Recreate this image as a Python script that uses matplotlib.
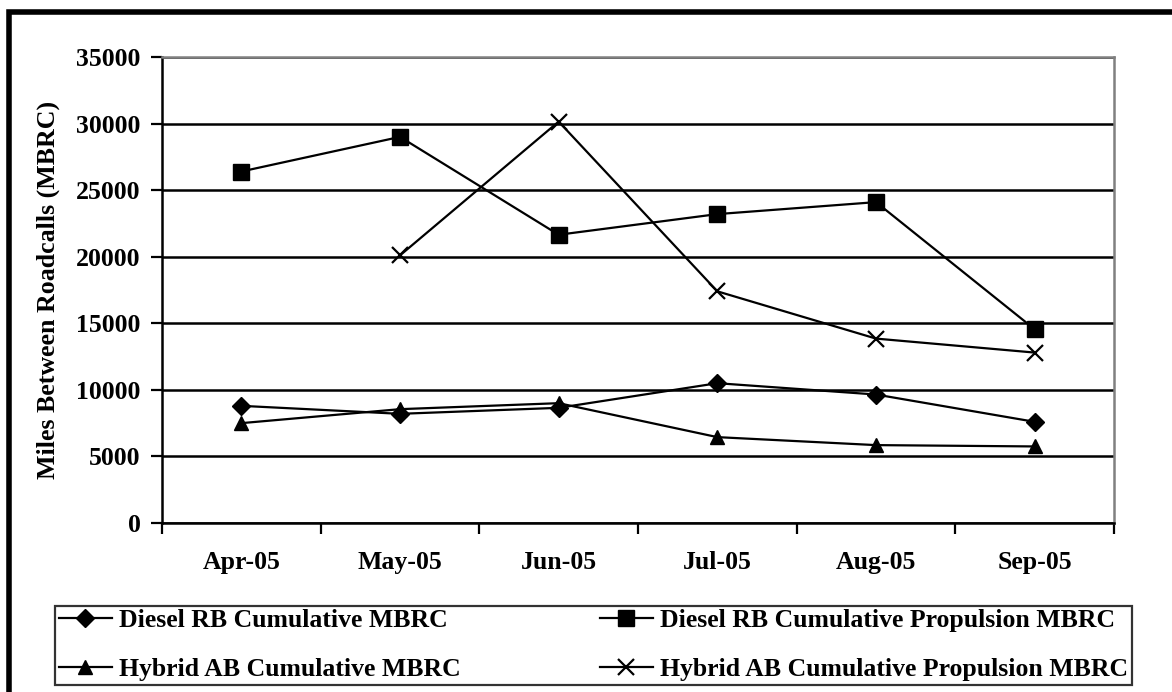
import numpy as np
import matplotlib.pyplot as plt
from matplotlib.patches import Rectangle

months = ['Apr-05', 'May-05', 'Jun-05', 'Jul-05', 'Aug-05', 'Sep-05']
diesel_cum = [8800, 8200, 8650, 10500, 9650, 7600]
diesel_prop = [26400, 29000, 21650, 23200, 24100, 14550]
hybrid_cum = [7500, 8550, 9000, 6450, 5850, 5750]
hybrid_prop = [np.nan, 20100, 30150, 17400, 13850, 12800]

plt.rcParams['font.family'] = ['Liberation Serif', 'DejaVu Serif']
plt.rcParams['font.weight'] = 'bold'

W, H = 1172, 692
fig = plt.figure(figsize=(W / 100, H / 100), dpi=100)
ax = fig.add_axes([162 / W, (H - 523) / H, 952 / W, 466 / H])

x = np.arange(len(months))
lw = 1.6
h1, = ax.plot(x, diesel_cum, color='black', lw=lw, marker='D', ms=9.5,
              label='Diesel RB Cumulative MBRC')
h2, = ax.plot(x, diesel_prop, color='black', lw=lw, marker='s', ms=11,
              label='Diesel RB Cumulative Propulsion MBRC')
h3, = ax.plot(x, hybrid_cum, color='black', lw=lw, marker='^', ms=10.5,
              label='Hybrid AB Cumulative MBRC')
h4, = ax.plot(x, hybrid_prop, color='black', lw=lw, marker='x', ms=11.5, mew=1.6,
              label='Hybrid AB Cumulative Propulsion MBRC')

ax.set_xlim(-0.5, len(months) - 0.5)
ax.set_ylim(0, 35000)
ax.set_yticks(np.arange(0, 35001, 5000))
ax.set_xticks(x)
ax.set_xticklabels(months)
ax.set_xticks(np.arange(-0.5, len(months)), minor=True)
ax.tick_params(axis='x', which='major', length=0, pad=20.5, labelsize=18.5)
ax.tick_params(axis='x', which='minor', length=8, width=1.6, direction='out')
ax.tick_params(axis='y', length=8, width=1.6, direction='out', labelsize=18.5, pad=7.5)
ax.yaxis.grid(True, color='black', lw=1.8)
ax.set_axisbelow(True)

for s in ['left', 'bottom']:
    ax.spines[s].set_linewidth(1.8)
    ax.spines[s].set_color('black')
for s in ['top', 'right']:
    ax.spines[s].set_linewidth(1.8)
    ax.spines[s].set_color('#808080')

ax.set_ylabel('Miles Between Roadcalls (MBRC)', fontsize=18.6, fontweight='bold')
ax.yaxis.set_label_coords((60 - 162) / 952, 0.5)

leg = fig.legend(handles=[h1, h3, h2, h4], ncol=2, loc='lower left',
                 bbox_to_anchor=(55 / W, (H - 685) / H),
                 borderaxespad=0, fancybox=False, fontsize=18.5,
                 handlelength=2.05, handletextpad=0.28, labelspacing=1.0,
                 columnspacing=5.43, borderpad=0.15, frameon=True)
leg.get_frame().set_edgecolor('black')
leg.get_frame().set_linewidth(1.6)

# outer frame of the chart area
fig.patches.append(Rectangle((9 / W, -0.1), 1.2, (H - 12) / H + 0.1,
                             transform=fig.transFigure, fill=False,
                             edgecolor='black', lw=4))

fig.savefig('out.png', dpi=100)
